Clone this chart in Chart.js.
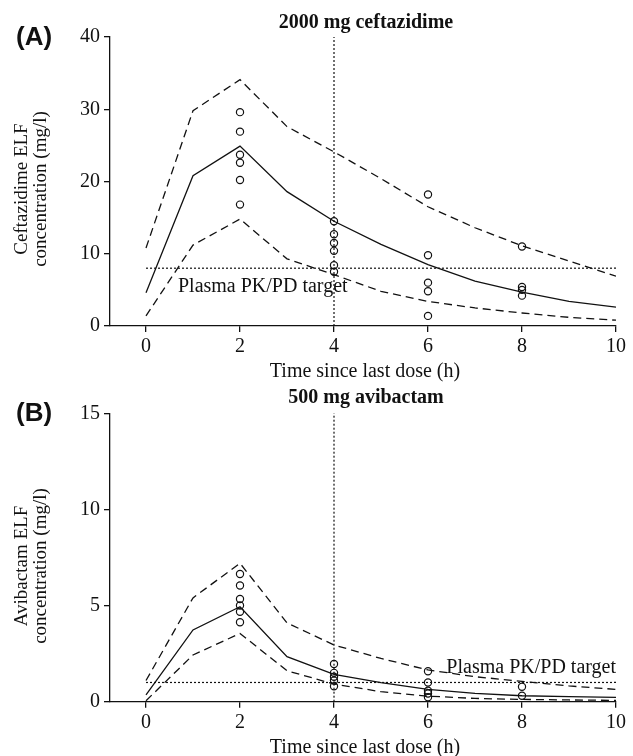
<!DOCTYPE html>
<html lang="en">
<head>
    <meta charset="utf-8">
    <title>Ceftazidime / avibactam ELF concentrations</title>
    <style>
        body { margin: 0; background: #fff; }
        .panel { position: absolute; left: 0; }
        canvas { display: block; }
    </style>
</head>
<body>
    <div class="panel" style="top:0"><canvas id="cazChart" width="633" height="386"></canvas></div>
    <div class="panel" style="top:386px"><canvas id="avbChart" width="633" height="370"></canvas></div>
    <script src="https://cdn.jsdelivr.net/npm/chart.js"></script>
    <script>
        // time grid of the simulated profiles (h)
        const hours = [0, 1, 2, 3, 4, 5, 6, 7, 8, 9, 10];
        const xTicks = [0, 2, 4, 6, 8, 10];

        // (A) ceftazidime 2000 mg
        const cazMedian = [4.6, 20.8, 24.9, 18.6, 14.5, 11.3, 8.5, 6.2, 4.7, 3.4, 2.6];
        const cazUpper = [10.8, 29.8, 34.1, 27.6, 24.1, 20.4, 16.5, 13.6, 11.1, 9.0, 6.9];
        const cazLower = [1.4, 11.2, 14.8, 9.3, 7.1, 4.8, 3.4, 2.5, 1.8, 1.2, 0.8];
        const cazObsTime = [2, 2, 2, 2, 2, 2, 4, 4, 4, 4, 4, 4, 6, 6, 6, 6, 6, 8, 8, 8, 8];
        const cazObsConc = [29.6, 26.9, 23.7, 22.6, 20.2, 16.8, 14.5, 12.7, 11.5, 10.4, 8.4, 7.5, 18.2, 9.8, 6.0, 4.8, 1.4, 11.0, 5.4, 5.0, 4.2];
        const cazTarget = 8;
        const cazYTicks = [0, 10, 20, 30, 40];

        // (B) avibactam 500 mg
        const avbMedian = [0.35, 3.73, 4.94, 2.34, 1.42, 0.99, 0.64, 0.43, 0.31, 0.26, 0.23];
        const avbUpper = [1.1, 5.4, 7.2, 4.1, 2.95, 2.25, 1.65, 1.3, 1.06, 0.82, 0.64];
        const avbLower = [0.05, 2.43, 3.55, 1.61, 0.92, 0.52, 0.29, 0.17, 0.12, 0.09, 0.07];
        const avbObsTime = [2, 2, 2, 2, 2, 2, 4, 4, 4, 4, 4, 6, 6, 6, 6, 6, 8, 8];
        const avbObsConc = [6.64, 6.04, 5.34, 5.0, 4.68, 4.13, 1.96, 1.5, 1.3, 1.1, 0.8, 1.58, 1.0, 0.57, 0.43, 0.23, 0.78, 0.31];
        const avbTarget = 1;
        const avbYTicks = [0, 5, 10, 15];

        const doseTime = 4;
        const ink = '#111';
        const serif = '"Liberation Serif", "Times New Roman", serif';

        const toPoints = (xs, ys) => xs.map((x, i) => ({ x: x, y: ys[i] }));

        // text that Chart.js has no slot for: panel letter, title, axis titles, target label
        const panelText = {
            id: 'panelText',
            afterDraw(chart, args, o) {
                const ctx = chart.ctx;
                const xs = chart.scales.x;
                const ys = chart.scales.y;
                ctx.save();
                ctx.fillStyle = ink;

                ctx.font = 'bold 26px "Liberation Sans", Arial, sans-serif';
                ctx.textAlign = 'left';
                ctx.textBaseline = 'middle';
                ctx.fillText(o.letter, 16, o.letterY);

                ctx.font = 'bold 20px ' + serif;
                ctx.textAlign = 'center';
                ctx.textBaseline = 'alphabetic';
                ctx.fillText(o.title, 366, o.titleY);

                ctx.font = '20px ' + serif;
                ctx.fillText('Time since last dose (h)', 365, ys.bottom + 51);

                ctx.save();
                ctx.translate(22, o.yLabelY);
                ctx.rotate(-Math.PI / 2);
                ctx.font = '19px ' + serif;
                ctx.textBaseline = 'middle';
                ctx.fillText(o.yLabel[0], 0, 0);
                ctx.fillText(o.yLabel[1], 0, 19);
                ctx.restore();

                ctx.font = '20px ' + serif;
                const ty = ys.getPixelForValue(o.target);
                if (o.targetSide === 'below') {
                    ctx.textAlign = 'left';
                    ctx.fillText('Plasma PK/PD target', xs.getPixelForValue(0.68), ty + 24);
                } else {
                    ctx.textAlign = 'right';
                    ctx.fillText('Plasma PK/PD target', xs.getPixelForValue(10), ty - 9);
                }
                ctx.restore();
            }
        };

        const makePanel = (id, p) => {
            const line = (data, dash) => ({
                type: 'scatter',
                data: toPoints(hours, data),
                showLine: true,
                borderColor: ink,
                borderWidth: 1.3,
                borderDash: dash,
                pointRadius: 0,
                tension: 0
            });
            const guide = (pts) => ({
                type: 'scatter',
                data: pts,
                showLine: true,
                borderColor: ink,
                borderWidth: 1.2,
                borderDash: [2, 2],
                pointRadius: 0
            });
            const ctx = document.getElementById(id).getContext('2d');
            return new Chart(ctx, {
                type: 'scatter',
                data: {
                    datasets: [
                        line(p.median, []),
                        line(p.upper, [8, 5]),
                        line(p.lower, [8, 5]),
                        guide([{ x: 0, y: p.target }, { x: 10, y: p.target }]),
                        guide([{ x: doseTime, y: 0 }, { x: doseTime, y: p.yMax }]),
                        {
                            type: 'scatter',
                            data: toPoints(p.obsTime, p.obsConc),
                            pointStyle: 'circle',
                            pointRadius: 3.6,
                            borderWidth: 1.2,
                            borderColor: ink,
                            backgroundColor: 'rgba(0,0,0,0)'
                        }
                    ]
                },
                options: {
                    responsive: false,
                    animation: false,
                    layout: { padding: { top: p.top, right: 17, left: 0, bottom: 0 } },
                    plugins: {
                        legend: { display: false },
                        tooltip: { enabled: false },
                        panelText: p.text
                    },
                    scales: {
                        x: {
                            type: 'linear',
                            min: -0.766,
                            max: 10,
                            afterBuildTicks: s => { s.ticks = xTicks.map(v => ({ value: v })); },
                            afterFit: s => { s.height = p.xHeight; },
                            border: { color: ink, width: 1.3 },
                            grid: { drawOnChartArea: false, tickLength: 6, color: ink, lineWidth: 1.3 },
                            ticks: { color: ink, padding: 3, font: { family: serif, size: 20 } }
                        },
                        y: {
                            type: 'linear',
                            min: 0,
                            max: p.yMax,
                            afterBuildTicks: s => { s.ticks = p.yTicks.map(v => ({ value: v })); },
                            afterFit: s => { s.width = 110; },
                            border: { color: ink, width: 1.3 },
                            grid: { drawOnChartArea: false, tickLength: 6, color: ink, lineWidth: 1.3 },
                            ticks: { color: ink, padding: 4, font: { family: serif, size: 20 } }
                        }
                    }
                },
                plugins: [panelText]
            });
        };

        makePanel('cazChart', {
            median: cazMedian, upper: cazUpper, lower: cazLower,
            obsTime: cazObsTime, obsConc: cazObsConc,
            target: cazTarget, yMax: 40, yTicks: cazYTicks,
            top: 37, xHeight: 60,
            text: {
                letter: '(A)', letterY: 38, title: '2000 mg ceftazidime', titleY: 28,
                yLabel: ['Ceftazidime ELF', 'concentration (mg/l)'], yLabelY: 189,
                target: cazTarget, targetSide: 'below'
            }
        });

        makePanel('avbChart', {
            median: avbMedian, upper: avbUpper, lower: avbLower,
            obsTime: avbObsTime, obsConc: avbObsConc,
            target: avbTarget, yMax: 15, yTicks: avbYTicks,
            top: 27.3, xHeight: 54.3,
            text: {
                letter: '(B)', letterY: 28, title: '500 mg avibactam', titleY: 17,
                yLabel: ['Avibactam ELF', 'concentration (mg/l)'], yLabelY: 180,
                target: avbTarget, targetSide: 'above'
            }
        });
    </script>
</body>
</html>
